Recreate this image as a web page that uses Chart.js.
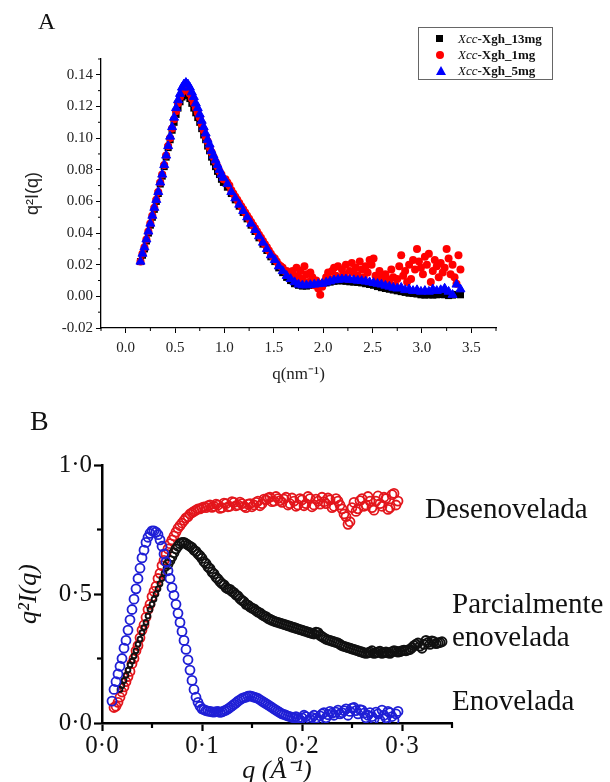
<!DOCTYPE html>
<html>
<head>
<meta charset="utf-8">
<script src="https://cdn.jsdelivr.net/npm/chart.js@4.4.0/dist/chart.umd.min.js"></script>
<style>
  body { margin: 0; background: #fff; }
  #page { position: relative; width: 610px; height: 782px; overflow: hidden; background: #fff; }
  #boxA { position: absolute; left: 0; top: 0; width: 610px; height: 400px; }
  #boxB { position: absolute; left: 0; top: 400px; width: 610px; height: 400px; }
  .panel { position: absolute; font-family: "Liberation Serif", serif; color: #111; }
  .legend { position: absolute; left: 418px; top: 27px; width: 135px; height: 53px; border: 1px solid #666;
            font-family: "Liberation Serif", serif; font-size: 13px; color: #111; box-sizing: border-box; padding-top: 3px; }
  .legend div { position: relative; height: 16px; line-height: 16px; padding-left: 39px; font-weight: bold; }
  .legend i { font-weight: normal; }
  .legend span { position: absolute; left: 17px; top: 4px; }
  .note { position: absolute; font-family: "Liberation Serif", serif; font-size: 29px; line-height: 32px; color: #111; }
</style>
</head>
<body>
<div id="page">
  <div id="boxA"><canvas id="chartA" width="610" height="400"></canvas></div>
  <div id="boxB"><canvas id="chartB" width="610" height="400"></canvas></div>
  <div class="panel" style="left:38px;top:8px;font-size:24px;">A</div>
  <div class="panel" style="left:30px;top:405px;font-size:28px;">B</div>
  <div class="legend">
    <div><span style="width:7px;height:7px;background:#000;"></span><i>Xcc</i>-Xgh_13mg</div>
    <div><span style="width:8px;height:8px;border-radius:50%;background:#f00;"></span><i>Xcc</i>-Xgh_1mg</div>
    <div><span style="width:0;height:0;border-left:5px solid transparent;border-right:5px solid transparent;border-bottom:9px solid #00f;top:3px;"></span><i>Xcc</i>-Xgh_5mg</div>
  </div>
  <div class="note" style="left:425px;top:492px;">Desenovelada</div>
  <div class="note" style="left:452px;top:587px;">Parcialmente</div>
  <div class="note" style="left:452px;top:620px;">enovelada</div>
  <div class="note" style="left:452px;top:684px;">Enovelada</div>
</div>
<script>
// ---- panel A: q (nm^-1) vs q^2 I(q) ----
var qA = [0.15,0.17,0.19,0.21,0.23,0.25,0.27,0.29,0.31,0.33,0.35,0.37,0.39,0.41,0.43,0.45,0.47,0.49,0.51,0.53,
  0.55,0.57,0.59,0.61,0.63,0.65,0.67,0.69,0.71,0.73,0.75,0.77,0.79,0.81,0.83,0.85,0.87,0.89,0.91,0.93,0.95,0.97,0.99,
  1.03,1.07,1.11,1.15,1.19,1.23,1.27,1.31,1.35,1.39,1.43,1.47,1.51,1.55,1.59,1.63,1.67,1.71,1.75,1.79,
  1.83,1.87,1.91,1.95,1.99,2.03,2.07,2.11,2.15,2.19,2.23,2.27,2.31,2.35,2.39,2.43,2.47,2.51,2.55,2.59,
  2.63,2.67,2.71,2.75,2.79,2.83,2.87,2.91,2.95,2.99,3.03,3.07,3.11,3.15,3.19,3.23,3.27,3.31,3.35,3.39];

// the 1 mg curve is sampled more finely past q = 1
var qA1 = [0.15,0.17,0.19,0.21,0.23,0.25,0.27,0.29,0.31,0.33,0.35,0.37,0.39,0.41,0.43,0.45,0.47,0.49,0.51,0.53,
  0.55,0.57,0.59,0.61,0.63,0.65,0.67,0.69,0.71,0.73,0.75,0.77,0.79,0.81,0.83,0.85,0.87,0.89,0.91,0.93,0.95,0.97,0.99,
  1.01,1.03,1.05,1.07,1.09,1.11,1.13,1.15,1.17,1.19,1.21,1.23,1.25,1.27,1.29,1.31,1.33,1.35,1.37,1.39,
  1.41,1.43,1.45,1.47,1.49,1.51,1.53,1.55,1.57,1.59,1.61,
  1.63,1.65,1.67,1.69,1.71,1.73,1.75,1.77,1.79,1.81,1.83,1.85,1.87,1.89,1.91,1.93,1.95,1.97,1.99,2.01,
  2.03,2.05,2.07,2.09,2.11,2.13,2.15,2.17,2.19,2.21,2.23,2.25,2.27,2.29,2.31,2.33,2.35,2.37,2.39,2.41,
  2.43,2.45,2.47,2.49,2.51,2.53,2.55,2.57,2.59,2.61,2.63,2.65,2.67,2.69,2.71,2.73,2.75,2.77,2.79,2.81,
  2.83,2.85,2.87,2.89,2.91,2.93,2.95,2.97,2.99,3.01,3.03,3.05,3.07,3.09,3.11,3.13,3.15,3.17,3.19,3.21,
  3.23,3.25,3.27,3.29,3.31,3.33,3.35,3.37,3.39];

var black13 = [0.022,0.026,0.030,0.035,0.040,0.045,0.050,0.055,0.060,0.065,0.071,0.076,0.082,0.088,0.094,0.099,0.105,0.110,0.115,0.119,
  0.123,0.126,0.128,0.128,0.127,0.125,0.122,0.119,0.116,0.113,0.110,0.106,0.102,0.099,0.095,0.092,0.088,0.085,0.082,0.079,0.077,0.074,0.072,
  0.069,0.065,0.061,0.057,0.053,0.049,0.045,0.041,0.037,0.033,0.029,0.025,0.022,0.018,0.015,0.012,0.010,0.008,0.007,0.0065,
  0.0065,0.007,0.007,0.0075,0.008,0.0085,0.009,0.0095,0.0098,0.0098,0.0095,0.0092,0.009,0.0088,0.0085,0.008,0.0075,0.007,0.0062,0.0055,
  0.005,0.0045,0.004,0.0035,0.003,0.0025,0.002,0.0018,0.0015,0.001,0.0008,0.001,0.0008,0.001,0.0012,0.001,0.0005,0.0008,0.0012,0.001];

var red1 = [0.022,0.027,0.031,0.036,0.041,0.046,0.051,0.056,0.061,0.066,0.072,0.077,0.083,0.089,0.095,0.100,0.106,0.112,0.117,0.122,
  0.126,0.129,0.131,0.131,0.130,0.128,0.125,0.122,0.119,0.116,0.113,0.109,0.105,0.101,0.098,0.094,0.091,0.088,0.085,0.082,0.079,0.077,0.074,
  0.074,0.072,0.070,0.067,0.065,0.063,0.061,0.059,0.057,0.055,0.053,0.051,0.049,0.047,0.045,0.043,0.041,0.039,0.037,0.035,
  0.033,0.031,0.029,0.027,0.025,0.024,0.022,0.020,0.019,0.018,0.016,
  0.016,0.015,0.014,0.016,0.013,0.018,0.012,0.016,0.011,0.019,0.014,0.009,0.015,0.012,0.007,0.010,0.005,0.001,0.006,0.009,
  0.012,0.015,0.011,0.016,0.018,0.013,0.019,0.012,0.017,0.014,0.020,0.011,0.016,0.021,0.015,0.018,0.013,0.022,0.017,0.012,
  0.019,0.015,0.023,0.020,0.024,0.013,0.010,0.016,0.012,0.008,0.014,0.011,0.009,0.017,0.012,0.007,0.011,0.019,0.026,0.013,
  0.016,0.009,0.020,0.011,0.023,0.017,0.030,0.022,0.018,0.014,0.025,0.020,0.027,0.009,0.016,0.023,0.019,0.012,0.021,0.015,
  0.018,0.030,0.024,0.014,0.020,0.012,0.008,0.026,0.017];

var blue5 = [0.022,0.027,0.031,0.036,0.041,0.046,0.051,0.056,0.061,0.066,0.072,0.077,0.083,0.089,0.095,0.101,0.107,0.113,0.119,0.124,
  0.128,0.132,0.134,0.135,0.134,0.132,0.129,0.126,0.122,0.119,0.115,0.111,0.107,0.103,0.099,0.096,0.092,0.089,0.086,0.083,0.080,0.077,0.075,
  0.071,0.066,0.062,0.058,0.054,0.050,0.046,0.042,0.038,0.034,0.030,0.026,0.023,0.019,0.016,0.013,0.011,0.009,0.0075,0.007,
  0.007,0.0072,0.0075,0.0078,0.008,0.0088,0.0095,0.0102,0.0105,0.0108,0.0108,0.0105,0.0103,0.0100,0.0098,0.0094,0.0090,0.0085,0.0080,0.0075,
  0.0068,0.0062,0.0055,0.0050,0.0055,0.0040,0.0045,0.0035,0.0040,0.0030,0.0035,0.0030,0.0045,0.0035,0.0040,0.0050,0.0030,0.0010,0.0075,0.0045];

var seriesA = ['Xcc-Xgh_13mg', 'Xcc-Xgh_1mg', 'Xcc-Xgh_5mg'];
var xTicksA = [0, 0.5, 1, 1.5, 2, 2.5, 3, 3.5];
var xMinorA = [-0.25, 0.25, 0.75, 1.25, 1.75, 2.25, 2.75, 3.25, 3.75];
var yTicksA = [-0.02, 0, 0.02, 0.04, 0.06, 0.08, 0.10, 0.12, 0.14];
var yMinorA = [-0.01, 0.01, 0.03, 0.05, 0.07, 0.09, 0.11, 0.13, 0.15];

// ---- panel B: q (1/A) vs q^2 I(q) ----
var qB = [0.010,0.012,0.014,0.016,0.018,0.020,0.022,0.024,0.026,0.028,
  0.030,0.032,0.034,0.036,0.038,0.040,0.042,0.044,0.046,0.048,
  0.050,0.052,0.054,0.056,0.058,0.060,0.062,0.064,0.066,0.068,
  0.070,0.072,0.074,0.076,0.078,0.080,0.082,0.084,0.086,0.088,
  0.090,0.092,0.094,0.096,0.098,0.100,
  0.102,0.104,0.106,0.108,0.110,0.112,0.114,0.116,0.118,0.120,
  0.122,0.124,0.126,0.128,0.130,0.132,0.134,0.136,0.138,0.140,
  0.142,0.144,0.146,0.148,0.150,0.152,0.154,0.156,0.158,0.160,
  0.162,0.164,0.166,0.168,0.170,0.172,0.174,0.176,0.178,0.180,
  0.182,0.184,0.186,0.188,0.190,0.192,0.194,0.196,0.198,0.200,
  0.202,0.204,0.206,0.208,0.210,0.212,0.214,0.216,0.218,0.220,
  0.222,0.224,0.226,0.228,0.230,0.232,0.234,0.236,0.238,0.240,
  0.242,0.244,0.246,0.248,0.250,0.252,0.254,0.256,0.258,0.260,
  0.262,0.264,0.266,0.268,0.270,0.272,0.274,0.276,0.278,0.280,
  0.282,0.284,0.286,0.288,0.290,0.292,0.294,0.296,0.298,0.300,
  0.302,0.304,0.306,0.308,0.310,0.312,0.314,0.316,0.318,0.320,
  0.322,0.324,0.326,0.328,0.330,0.332,0.334,0.336,0.338,0.340];

var unfolded = [null,0.06,0.065,0.08,0.10,0.12,0.14,0.16,0.18,0.20,
  0.23,0.25,0.28,0.30,0.33,0.36,0.38,0.41,0.44,0.46,
  0.49,0.51,0.53,0.56,0.58,0.61,0.63,0.655,0.675,0.695,
  0.71,0.725,0.74,0.755,0.765,0.775,0.785,0.795,0.80,0.81,
  0.815,0.82,0.825,0.83,0.83,0.835,
  0.838,0.835,0.842,0.845,0.836,0.840,0.848,0.845,0.832,0.835,
  0.852,0.850,0.838,0.840,0.858,0.855,0.842,0.845,0.856,0.850,
  0.840,0.835,0.848,0.850,0.838,0.845,0.855,0.860,0.842,0.850,
  0.868,0.865,0.872,0.875,0.858,0.860,0.878,0.870,0.862,0.855,
  0.868,0.875,0.845,0.850,0.872,0.860,0.840,0.845,0.870,0.865,
  0.842,0.850,0.878,0.870,0.838,0.845,0.868,0.860,0.848,0.875,
  0.858,0.850,0.872,0.865,0.835,0.840,0.870,0.860,0.845,0.830,
  0.810,0.800,0.770,0.780,0.835,0.855,0.820,0.830,0.862,0.870,
  0.840,0.845,0.878,0.860,0.835,0.825,0.860,0.880,0.850,0.840,
  0.875,0.870,0.828,0.835,0.885,0.890,0.845,0.860,null,null,
  null,null,null,null,null,null,null,null,null,null,
  null,null,null,null,null,null,null,null,null,null];

var partial = [null,null,null,null,0.13,0.145,0.165,0.185,0.205,0.225,
  0.24,0.26,0.28,0.305,0.325,0.35,0.37,0.39,0.415,0.44,
  0.46,0.48,0.50,0.52,0.54,0.56,0.58,0.60,0.615,0.63,
  0.645,0.66,0.675,0.685,0.695,0.70,0.70,0.695,0.69,0.685,
  0.68,0.67,0.665,0.655,0.648,0.638,
  0.625,0.618,0.605,0.598,0.585,0.578,0.565,0.558,0.548,0.540,
  0.535,0.525,0.520,0.518,0.510,0.505,0.497,0.492,0.482,0.475,
  0.470,0.460,0.457,0.450,0.445,0.442,0.435,0.430,0.427,0.420,
  0.415,0.412,0.405,0.402,0.398,0.395,0.392,0.390,0.387,0.385,
  0.382,0.380,0.377,0.375,0.372,0.370,0.367,0.365,0.362,0.360,
  0.357,0.355,0.352,0.350,0.347,0.345,0.352,0.350,0.340,0.335,
  0.330,0.325,0.322,0.320,0.317,0.315,0.312,0.310,0.305,0.300,
  0.297,0.295,0.292,0.290,0.287,0.285,0.282,0.280,0.277,0.275,
  0.272,0.270,0.272,0.275,0.280,0.270,0.272,0.275,0.278,0.270,
  0.273,0.275,0.272,0.270,0.276,0.280,0.278,0.275,0.277,0.280,
  0.282,0.280,0.283,0.285,0.292,0.300,0.305,0.310,0.298,0.290,
  0.305,0.320,0.312,0.305,0.318,0.315,0.308,0.310,0.312,0.315];

var folded = [0.085,0.13,0.16,0.19,0.22,0.25,0.29,0.32,0.36,0.40,
  0.44,0.48,0.52,0.56,0.60,0.64,0.67,0.70,0.72,0.735,
  0.745,0.745,0.74,0.73,0.71,0.685,0.655,0.625,0.59,0.56,
  0.525,0.495,0.46,0.425,0.39,0.355,0.32,0.285,0.245,0.205,
  0.165,0.13,0.10,0.08,0.065,0.055,
  0.052,0.048,0.046,0.045,0.043,0.042,0.044,0.045,0.041,0.043,
  0.047,0.050,0.055,0.060,0.066,0.072,0.078,0.085,0.090,0.095,
  0.098,0.100,0.104,0.105,0.103,0.100,0.098,0.095,0.090,0.085,
  0.080,0.075,0.070,0.065,0.060,0.055,0.050,0.045,0.040,0.035,
  0.033,0.030,0.027,0.025,0.022,0.020,0.025,0.018,0.012,0.020,
  0.030,0.025,0.008,0.015,0.022,0.030,0.018,0.010,0.028,0.035,
  0.040,0.020,0.032,0.045,0.038,0.030,0.042,0.050,0.035,0.040,
  0.048,0.055,0.030,0.045,0.058,0.060,0.048,0.035,0.052,0.050,
  0.038,0.020,0.030,0.040,0.025,0.015,0.042,0.035,0.010,0.050,
  0.030,0.020,0.045,0.040,0.025,0.010,0.035,0.045,null,null,
  null,null,null,null,null,null,null,null,null,null,
  null,null,null,null,null,null,null,null,null,null];

var seriesB = ['Desenovelada', 'Parcialmente enovelada', 'Enovelada'];
var xTicksB = [0, 0.1, 0.2, 0.3];
var xMinorB = [0.05, 0.15, 0.25, 0.35];
var yTicksB = [0, 0.5, 1];
var yMinorB = [0.25, 0.75];

function pts(xs, ys) {
  var out = [];
  for (var i = 0; i < xs.length && i < ys.length; i++) {
    if (ys[i] !== null) out.push({x: xs[i], y: ys[i]});
  }
  return out;
}

// short minor tick marks between the major ones
var minorTicks = {
  id: 'minorTicks',
  afterDraw: function(chart, args, opts) {
    var ctx = chart.ctx, xs = chart.scales.x, ys = chart.scales.y;
    ctx.save();
    ctx.strokeStyle = '#000';
    ctx.lineWidth = opts.width;
    (opts.x || []).forEach(function(v) {
      var px = xs.getPixelForValue(v);
      ctx.beginPath(); ctx.moveTo(px, ys.bottom); ctx.lineTo(px, ys.bottom + opts.len); ctx.stroke();
    });
    (opts.y || []).forEach(function(v) {
      var py = ys.getPixelForValue(v);
      ctx.beginPath(); ctx.moveTo(xs.left, py); ctx.lineTo(xs.left - opts.len, py); ctx.stroke();
    });
    ctx.restore();
  }
};

var serif = '"Liberation Serif", "Times New Roman", serif';

new Chart(document.getElementById('chartA'), {
  type: 'scatter',
  data: {
    datasets: [
      { label: seriesA[2], data: pts(qA, blue5), pointStyle: 'triangle', pointRadius: 5.2,
        backgroundColor: '#0000ff', borderColor: '#0000ff', borderWidth: 1 },
      { label: seriesA[1], data: pts(qA1, red1), pointStyle: 'circle', pointRadius: 4,
        backgroundColor: '#ff0000', borderColor: '#ff0000', borderWidth: 0 },
      { label: seriesA[0], data: pts(qA, black13), pointStyle: 'rect', pointRadius: 5,
        backgroundColor: '#000', borderColor: '#000', borderWidth: 0 }
    ]
  },
  options: {
    responsive: false,
    animation: false,
    layout: { padding: { left: 0, right: 114, top: 59, bottom: 0 } },
    plugins: {
      legend: { display: false },
      tooltip: { enabled: false },
      minorTicks: { x: xMinorA, y: yMinorA, len: 3, width: 1 }
    },
    scales: {
      x: {
        type: 'linear', min: -0.25, max: 3.75,
        afterBuildTicks: function(s) { s.ticks = xTicksA.map(function(v) { return {value: v}; }); },
        afterFit: function(s) { s.height = 72; },
        grid: { drawOnChartArea: false, tickLength: 5, tickColor: '#000', tickWidth: 1 },
        border: { color: '#000', width: 1.3 },
        ticks: { color: '#222', font: { family: serif, size: 15 }, padding: 6, maxRotation: 0,
                 callback: function(v) { return v.toFixed(1); } },
        title: { display: true, text: 'q(nm⁻¹)', color: '#222', font: { family: serif, size: 17 },
                 padding: { top: 0, bottom: 15 } }
      },
      y: {
        type: 'linear', min: -0.02, max: 0.15,
        afterBuildTicks: function(s) { s.ticks = yTicksA.map(function(v) { return {value: v}; }); },
        afterFit: function(s) { s.width = 101; },
        grid: { drawOnChartArea: false, tickLength: 5, tickColor: '#000', tickWidth: 1 },
        border: { color: '#000', width: 1.3 },
        ticks: { color: '#222', font: { family: serif, size: 15 }, padding: 3,
                 callback: function(v) { return v.toFixed(2); } },
        title: { display: true, text: 'q²I(q)', color: '#222',
                 font: { family: '"Liberation Sans", Arial, sans-serif', size: 18 },
                 padding: { top: 22, bottom: 0 } }
      }
    }
  },
  plugins: [minorTicks]
});

new Chart(document.getElementById('chartB'), {
  type: 'scatter',
  data: {
    datasets: [
      { label: seriesB[2], data: pts(qB, folded), pointStyle: 'circle', pointRadius: 4.5,
        backgroundColor: 'rgba(0,0,0,0)', borderColor: '#1f1fd6', borderWidth: 1.8 },
      { label: seriesB[1], data: pts(qB, partial), pointStyle: 'circle',
        pointRadius: function(c) { return c.raw && c.raw.x < 0.066 ? 2.4 : 4.5; },
        backgroundColor: 'rgba(0,0,0,0)', borderColor: '#111', borderWidth: 1.9 },
      { label: seriesB[0], data: pts(qB, unfolded), pointStyle: 'circle', pointRadius: 4.5,
        backgroundColor: 'rgba(0,0,0,0)', borderColor: '#e3161c', borderWidth: 1.8 }
    ]
  },
  options: {
    responsive: false,
    animation: false,
    layout: { padding: { left: 0, right: 158, top: 65, bottom: 0 } },
    plugins: {
      legend: { display: false },
      tooltip: { enabled: false },
      minorTicks: { x: xMinorB, y: yMinorB, len: 5, width: 2.2 }
    },
    scales: {
      x: {
        type: 'linear', min: 0, max: 0.35,
        afterBuildTicks: function(s) { s.ticks = xTicksB.map(function(v) { return {value: v}; }); },
        afterFit: function(s) { s.height = 77; },
        grid: { drawOnChartArea: false, tickLength: 8, tickColor: '#000', tickWidth: 2.2 },
        border: { color: '#000', width: 2.5 },
        ticks: { color: '#111', font: { family: serif, size: 25 }, padding: 0, maxRotation: 0,
                 callback: function(v) { return v.toFixed(1).replace('.', '·'); } },
        title: { display: true, text: 'q (Å⁻¹)', color: '#111',
                 font: { family: serif, size: 26, style: 'italic' }, padding: { top: 0, bottom: 13 } }
      },
      y: {
        type: 'linear', min: 0, max: 1,
        afterBuildTicks: function(s) { s.ticks = yTicksB.map(function(v) { return {value: v}; }); },
        afterFit: function(s) { s.width = 102; },
        grid: { drawOnChartArea: false, tickLength: 8, tickColor: '#000', tickWidth: 2.2 },
        border: { color: '#000', width: 2.5 },
        ticks: { color: '#111', font: { family: serif, size: 25 }, padding: 2,
                 callback: function(v) { return v.toFixed(1).replace('.', '·'); } },
        title: { display: true, text: 'q²I(q)', color: '#111',
                 font: { family: serif, size: 26, style: 'italic' }, padding: { top: 14, bottom: 0 } }
      }
    }
  },
  plugins: [minorTicks]
});
</script>
</body>
</html>
